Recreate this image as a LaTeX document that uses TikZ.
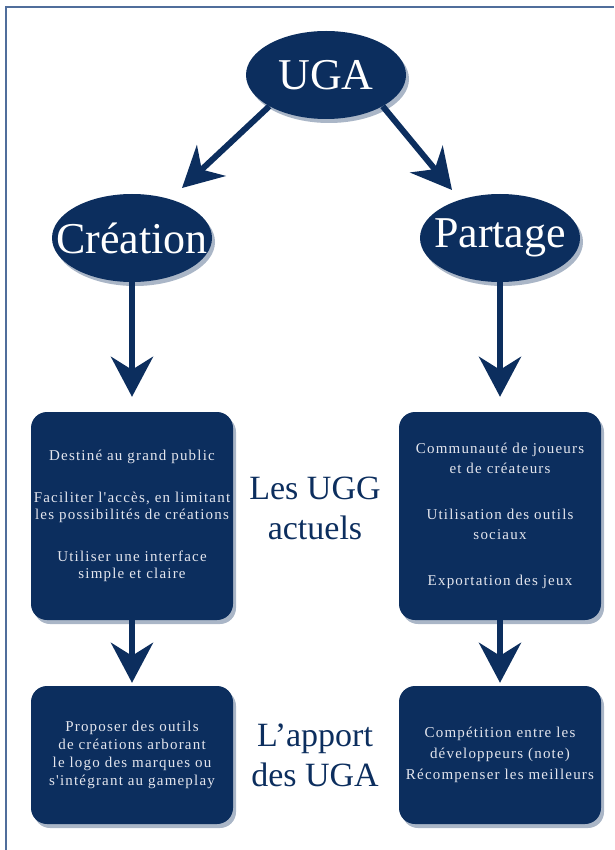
\documentclass[tikz,border=0pt]{standalone}
\usepackage{fontspec}
\setmainfont{Liberation Serif}
\newfontfamily\boxfont[LetterSpace=8]{Liberation Serif}
\usetikzlibrary{shapes.geometric,arrows.meta,shadows}

\definecolor{navy}{RGB}{12,46,94}
\definecolor{pale}{RGB}{228,230,238}
\definecolor{framecol}{RGB}{80,110,155}

\tikzset{
  softshadow/.style={drop shadow={shadow xshift=3pt, shadow yshift=-4pt, fill=navy, opacity=.35}},
  bubble/.style={ellipse, fill=navy, text=white, inner sep=0pt,
    minimum width=160pt, minimum height=88pt,
    font=\fontsize{44}{44}\selectfont, softshadow},
  panel/.style={rounded corners=16pt, fill=navy, text=pale, inner sep=0pt,
    minimum width=202pt, align=center,
    font=\boxfont\fontsize{15}{18}\selectfont, softshadow},
  tag/.style={text=navy, align=center, font=\fontsize{34}{40}\selectfont},
  arr/.style={draw=navy, line width=6pt, -{Stealth[length=40pt,width=42pt,inset=13pt]}},
}

\begin{document}
\begin{tikzpicture}[x=1pt, y=-1pt]
        \useasboundingbox (0,0) rectangle (614,850);

        % Cornice
        \draw[framecol, line width=2pt] (6,850) -- (6,7) -- (614,7);

        % Ellissi
        \node[bubble] (uga)  at (326,75)  {\makebox[0pt]{UGA}};
        \node[bubble] (crea) at (132,238) {\makebox[0pt]{Création}};
        \node[bubble] (part) at (500,238) {\makebox[0pt]{Partage}};

        % Riquadri
        \node[panel, minimum height=208pt, font=\boxfont\fontsize{15}{17}\selectfont] (ugg1) at (132,516)
          {Destiné au grand public\\[25pt]
           Faciliter l'accès, en limitant\\les possibilités de créations\\[25pt]
           Utiliser une interface\\simple et claire};
        \node[panel, minimum height=208pt, font=\boxfont\fontsize{15}{20}\selectfont] (ugg2) at (500,516)
          {Communauté de joueurs\\et de créateurs\\[26pt]
           Utilisation des outils\\sociaux\\[26pt]
           Exportation des jeux};
        \node[panel, minimum height=138pt] (apport1) at (132,755)
          {Proposer des outils\\de créations arborant\\le logo des marques ou\\s'intégrant au gameplay};
        \node[panel, minimum height=138pt, font=\boxfont\fontsize{15}{21}\selectfont] (apport2) at (500,755)
          {Compétition entre les\\développeurs (note)\\Récompenser les meilleurs};

        % Etichette centrali
        \node[tag] (ugg)   at (315,508) {Les UGG\\actuels};
        \node[tag] (ugaap) at (315,755) {L'apport\\des UGA};

        % Frecce
        \coordinate (ltip) at (182,188);
        \coordinate (rtip) at (452,190);
        \draw[arr] (uga.south west) -- (ltip);
        \draw[arr] (uga.south east) -- (rtip);
        \draw[arr, shorten >=15pt] (crea) -- (ugg1);
        \draw[arr, shorten >=15pt] (part) -- (ugg2);
        \draw[arr, shorten >=3pt] (ugg1) -- (apport1);
        \draw[arr, shorten >=3pt] (ugg2) -- (apport2);
    \end{tikzpicture}
\end{document}
